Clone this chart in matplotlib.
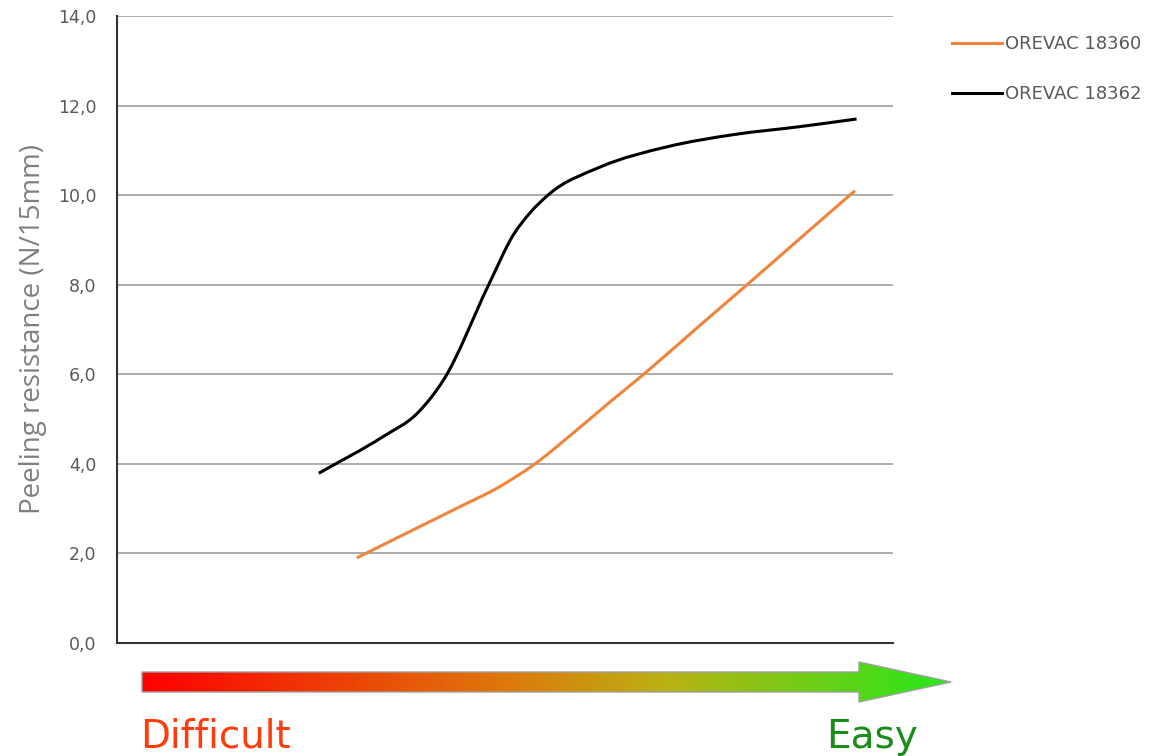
import numpy as np
import matplotlib.pyplot as plt
from matplotlib.patches import Polygon, PathPatch
from matplotlib.path import Path
from matplotlib.lines import Line2D

# Datos (eje x relativo 0-100, sin etiquetas)
x_18362 = [26.0, 34.3, 38.7, 42.1, 47.9, 51.1, 53.2, 55.6, 62.3, 70.9, 79.4, 88.0, 95.3]
y_18362 = [3.79, 4.61, 5.13, 5.88, 8.00, 9.12, 9.60, 10.01, 10.63, 11.08, 11.35, 11.53, 11.70]

x_18360 = [30.9, 37.4, 43.8, 49.4, 53.7, 58.8, 63.1, 67.8, 75.1, 81.2, 88.0, 95.1]
y_18360 = [1.90, 2.46, 3.01, 3.50, 3.98, 4.69, 5.32, 5.99, 7.09, 8.00, 9.03, 10.10]

y_ticks = [0, 2, 4, 6, 8, 10, 12, 14]
y_tick_labels = ['0,0', '2,0', '4,0', '6,0', '8,0', '10,0', '12,0', '14,0']


def curva_suave(ax, x, y, color, lw):
    # Linea suavizada: segmentos Bezier (Hermite en x) por los puntos
    x = np.asarray(x, float)
    y = np.asarray(y, float)
    h = np.diff(x)
    d = np.diff(y) / h
    m = np.empty_like(x)
    m[0], m[-1] = d[0], d[-1]
    m[1:-1] = (d[:-1] * h[1:] + d[1:] * h[:-1]) / (h[:-1] + h[1:])
    verts = [(x[0], y[0])]
    codes = [Path.MOVETO]
    for i in range(len(x) - 1):
        verts += [(x[i] + h[i] / 3, y[i] + m[i] * h[i] / 3),
                  (x[i + 1] - h[i] / 3, y[i + 1] - m[i + 1] * h[i] / 3),
                  (x[i + 1], y[i + 1])]
        codes += [Path.CURVE4] * 3
    ax.add_patch(PathPatch(Path(verts, codes), facecolor='none', edgecolor=color,
                           lw=lw, capstyle='butt', joinstyle='round'))


fig = plt.figure(figsize=(11.5, 7.56), dpi=100)
ax = fig.add_axes([117 / 1150, 1 - 643 / 756, 776 / 1150, 627 / 756])

naranja = '#F0843A'
curva_suave(ax, x_18360, y_18360, naranja, 2.2)
curva_suave(ax, x_18362, y_18362, 'black', 2.2)

ax.set_xlim(0, 100)
ax.set_ylim(0, 14)
ax.set_xticks([])
ax.set_yticks(y_ticks)
ax.set_yticklabels(y_tick_labels)
ax.tick_params(axis='y', length=0, pad=15, labelsize=12.5, labelcolor='#595959')
ax.grid(True, axis='y', color='#A6A6A6', lw=1.3)
ax.set_axisbelow(True)

for s in ['top', 'right']:
    ax.spines[s].set_visible(False)
for s in ['left', 'bottom']:
    ax.spines[s].set_color('#333333')
    ax.spines[s].set_linewidth(1.5)

ax.set_ylabel('Peeling resistance (N/15mm)', fontsize=20, color='#7F7F7F',
              family='Open Sans', labelpad=8)

handles = [Line2D([], [], color=naranja, lw=2.2),
           Line2D([], [], color='black', lw=2.2)]
ax.legend(handles, ['OREVAC 18360', 'OREVAC 18362'], loc='upper left',
          bbox_to_anchor=(1.055, 0.995), frameon=False,
          fontsize=13, labelcolor='#595959', labelspacing=1.75,
          handlelength=2.8, handletextpad=0.15, borderaxespad=0.5)

# Flecha con degradado (decorativa), en coordenadas de pixel
ov = fig.add_axes([0, 0, 1, 1], zorder=-1)
ov.set_xlim(0, 1150)
ov.set_ylim(756, 0)
ov.axis('off')

flecha = [(142, 672), (859, 672), (859, 662), (951, 682), (859, 702),
          (859, 692), (142, 692)]
poly = Polygon(flecha, closed=True, facecolor='none', edgecolor='#A0A0A0', lw=1.0)
ov.add_patch(poly)

stops = [(0.0, (255, 0, 0)), (0.45, (222, 120, 12)), (0.65, (185, 178, 20)),
         (1.0, (38, 232, 26))]
t = np.linspace(0, 1, 400)
pos = [s[0] for s in stops]
rgb = np.array([[np.interp(t, pos, [s[1][k] for s in stops]) for k in range(3)]])
rgb = np.transpose(rgb, (0, 2, 1)) / 255.0
img = ov.imshow(rgb, extent=(142, 951, 702, 662), aspect='auto', interpolation='bilinear')
img.set_clip_path(poly)

ov.text(140, 748, 'Difficult', fontsize=28, color='#FF3C0A', ha='left', va='baseline')
ov.text(826, 748, 'Easy', fontsize=28, color='#1A8C1A', ha='left', va='baseline')

fig.savefig('out.png', dpi=100)
